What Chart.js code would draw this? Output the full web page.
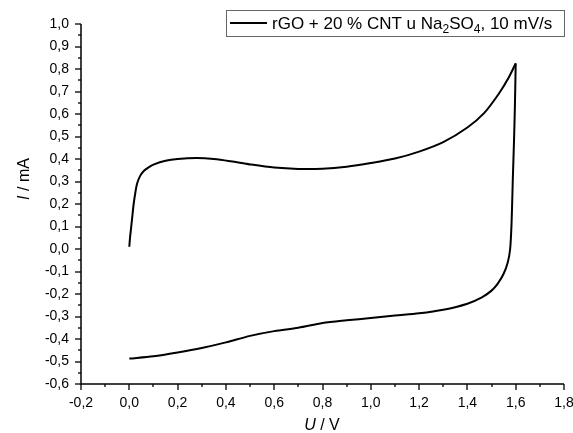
<!DOCTYPE html>
<html>
<head>
<meta charset="utf-8">
<script src="https://cdn.jsdelivr.net/npm/chart.js@4"></script>
<style>
  html, body { margin: 0; padding: 0; background: #fff; }
  #wrap { width: 573px; height: 433px; }
</style>
</head>
<body>
<div id="wrap"><canvas id="cv" width="573" height="433"></canvas></div>
<script>
// forward sweep (0 -> 1,6 V)
const forwardU = [0, 0.003, 0.008, 0.013, 0.018, 0.025, 0.032, 0.045, 0.06, 0.08, 0.1, 0.15, 0.2, 0.28, 0.35, 0.42, 0.5, 0.6, 0.7, 0.8, 0.9, 1.0, 1.1, 1.2, 1.3, 1.4, 1.47, 1.53, 1.57, 1.6];
const forwardI = [0.01, 0.05, 0.1, 0.15, 0.2, 0.25, 0.29, 0.325, 0.347, 0.363, 0.375, 0.392, 0.4, 0.404, 0.4, 0.39, 0.376, 0.362, 0.356, 0.357, 0.366, 0.382, 0.402, 0.433, 0.475, 0.54, 0.605, 0.69, 0.76, 0.825];
// reverse sweep (1,6 -> 0 V)
const reverseU = [1.6, 1.597, 1.593, 1.588, 1.583, 1.577, 1.567, 1.55, 1.525, 1.5, 1.46, 1.4, 1.3, 1.2, 1.1, 1.0, 0.9, 0.8, 0.7, 0.6, 0.5, 0.4, 0.3, 0.2, 0.1, 0.0];
const reverseI = [0.825, 0.65, 0.48, 0.31, 0.12, 0.0, -0.06, -0.11, -0.155, -0.185, -0.215, -0.243, -0.27, -0.286, -0.296, -0.307, -0.317, -0.329, -0.35, -0.365, -0.386, -0.415, -0.44, -0.46, -0.477, -0.487];

const xMin = -0.2, xMax = 1.8, xStep = 0.2;
const yMin = -0.6, yMax = 1.0, yStep = 0.1;
const FONT = '"Liberation Sans", Arial, sans-serif';

const fmt = v => v.toFixed(1).replace('.', ',');
const pts = (us, is) => us.map((u, i) => ({ x: u, y: is[i] }));

// ticks (major + minor), legend box and axis titles
const decor = {
    id: 'decor',
    afterDraw(chart) {
        const ctx = chart.ctx, x = chart.scales.x, y = chart.scales.y;
        const ca = chart.chartArea;
        ctx.save();
        ctx.strokeStyle = '#000';
        ctx.lineWidth = 1.5;
        ctx.beginPath();
        ctx.moveTo(ca.left, ca.top); ctx.lineTo(ca.left, ca.bottom); ctx.lineTo(ca.right, ca.bottom);
        ctx.stroke();
        ctx.lineWidth = 1.3;
        for (let k = 0; k <= 20; k++) {
            const v = xMin + k * 0.1, px = Math.round(x.getPixelForValue(v));
            const len = k % 2 === 0 ? 6 : 3;
            ctx.beginPath(); ctx.moveTo(px, ca.bottom); ctx.lineTo(px, ca.bottom + len); ctx.stroke();
        }
        for (let k = 0; k <= 32; k++) {
            const v = yMin + k * 0.05, py = Math.round(y.getPixelForValue(v));
            const len = k % 2 === 0 ? 6 : 3;
            ctx.beginPath(); ctx.moveTo(ca.left, py); ctx.lineTo(ca.left - len, py); ctx.stroke();
        }

        // legend
        ctx.lineWidth = 1;
        ctx.strokeStyle = '#666';
        ctx.strokeRect(226.5, 10.5, 338, 26);
        ctx.strokeStyle = '#000';
        ctx.lineWidth = 2;
        ctx.beginPath(); ctx.moveTo(230, 23); ctx.lineTo(267, 23); ctx.stroke();
        ctx.fillStyle = '#000';
        ctx.textBaseline = 'alphabetic';
        ctx.textAlign = 'left';
        const big = '17px ' + FONT, small = '12px ' + FONT;
        let tx = 272;
        const parts = [['rGO + 20 % CNT u Na', big, 0], ['2', small, 4], ['SO', big, 0], ['4', small, 4], [', 10 mV/s', big, 0]];
        parts.forEach(([t, f, dy]) => {
            ctx.font = f;
            ctx.fillText(t, tx, 29 + dy);
            tx += ctx.measureText(t).width;
        });

        // axis titles
        const title = (segs, cx, cy) => {
            let w = 0;
            segs.forEach(([t, f]) => { ctx.font = f; w += ctx.measureText(t).width; });
            let p = cx - w / 2;
            segs.forEach(([t, f]) => { ctx.font = f; ctx.fillText(t, p, cy); p += ctx.measureText(t).width; });
        };
        title([['U', 'italic 16px ' + FONT], [' / V', '16px ' + FONT]], 322, 430);
        ctx.translate(29, 179);
        ctx.rotate(-Math.PI / 2);
        title([['I', 'italic 16px ' + FONT], [' / mA', '16px ' + FONT]], 0, 0);
        ctx.restore();
    }
};

const lineStyle = { borderColor: '#000', borderWidth: 2, pointRadius: 0, fill: false, tension: 0.3 };

new Chart(document.getElementById('cv'), {
    type: 'scatter',
    data: {
        datasets: [
            { label: 'forward', data: pts(forwardU, forwardI), showLine: true, ...lineStyle },
            { label: 'reverse', data: pts(reverseU, reverseI), showLine: true, ...lineStyle }
        ]
    },
    options: {
        responsive: false,
        animation: false,
        layout: { padding: { left: 0, right: 9, top: 24, bottom: 0 } },
        plugins: { legend: { display: false }, tooltip: { enabled: false } },
        scales: {
            x: {
                type: 'linear', min: xMin, max: xMax,
                grid: { display: false, drawTicks: false },
                border: { display: false },
                ticks: { stepSize: xStep, padding: 11, color: '#000', font: { family: FONT, size: 14 }, callback: v => fmt(v), maxRotation: 0, autoSkip: false },
                afterFit: s => { s.height = 49; s.paddingLeft = 0; s.paddingRight = 0; }
            },
            y: {
                type: 'linear', min: yMin, max: yMax,
                grid: { display: false, drawTicks: false },
                border: { display: false },
                ticks: { stepSize: yStep, padding: 12, color: '#000', font: { family: FONT, size: 14 }, callback: v => fmt(v), autoSkip: false },
                afterFit: s => { s.width = 81; s.paddingTop = 0; s.paddingBottom = 0; }
            }
        }
    },
    plugins: [decor]
});
</script>
</body>
</html>
